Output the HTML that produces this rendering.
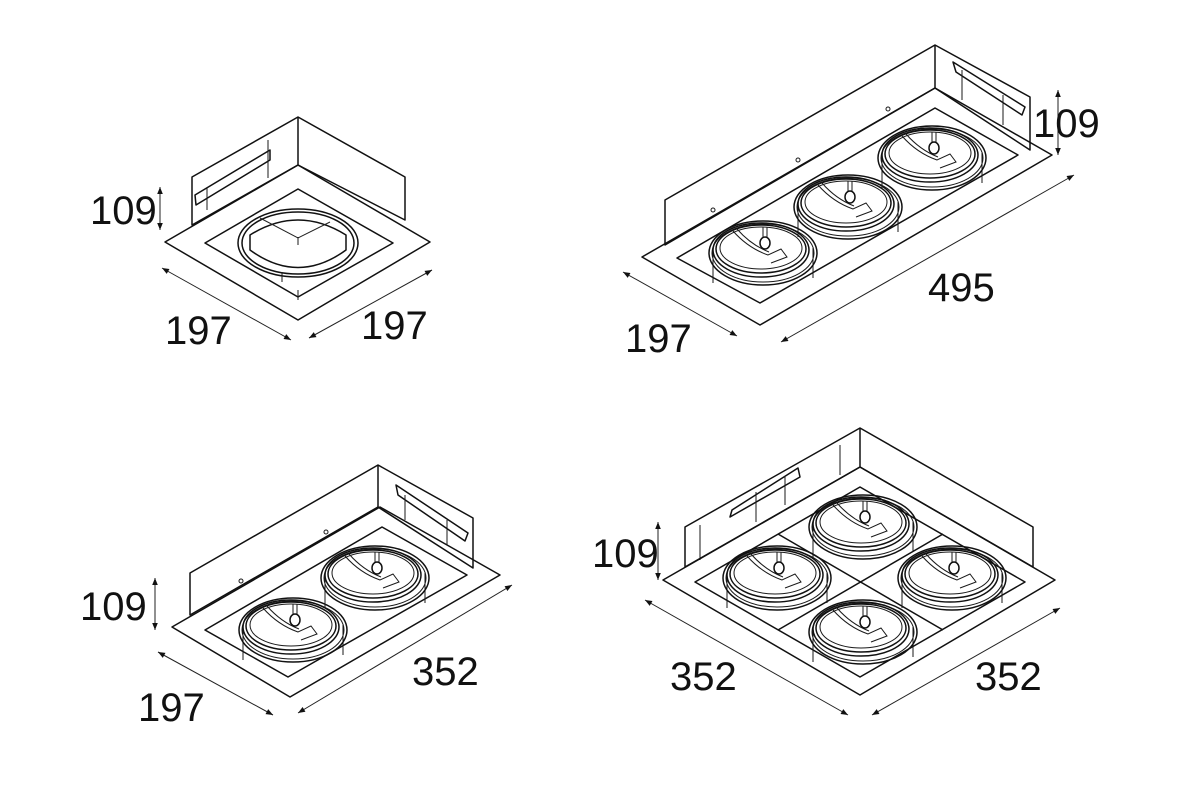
<!DOCTYPE html>
<html><head><meta charset="utf-8"><style>
html,body{margin:0;padding:0;background:#fff}
svg{display:block}
text{font-family:"Liberation Sans",sans-serif;font-size:40px;fill:#111}
.l{fill:none;stroke:#111;stroke-width:1.5;stroke-linejoin:round}
.t{fill:none;stroke:#1a1a1a;stroke-width:1}
.d{fill:none;stroke:#222;stroke-width:1}
</style></head><body>
<svg width="1200" height="800" viewBox="0 0 1200 800" xmlns="http://www.w3.org/2000/svg">
<defs>
<marker id="a" viewBox="0 0 10 10" refX="10" refY="5" markerWidth="9" markerHeight="7" orient="auto-start-reverse" markerUnits="userSpaceOnUse"><path d="M0,1 L10,5 L0,9 Z" fill="#111"/></marker>
<g id="ring">
<line class="t" x1="-50" y1="0" x2="-50" y2="30"/><line class="t" x1="50" y1="-5" x2="50" y2="25"/>
<ellipse class="l" cx="0" cy="0" rx="54" ry="32" fill="#fff"/>
<ellipse class="t" cx="0" cy="0" rx="51" ry="29"/>
<ellipse class="l" cx="-2" cy="-3" rx="48" ry="27"/>
<ellipse class="l" cx="-2" cy="-4" rx="45" ry="24"/>
<ellipse class="t" cx="-2" cy="-5" rx="41" ry="21"/>
<path class="t" d="M-30,-22 Q-15,-5 5,2 L18,-4 L24,4 L8,10"/>
<path class="t" d="M-26,-24 Q-12,-8 6,-1"/>
<line class="t" x1="0" y1="-26" x2="0" y2="-16"/><line class="t" x1="4" y1="-26" x2="4" y2="-16"/>
<ellipse class="l" cx="2" cy="-10" rx="5" ry="6"/>
</g>
</defs>

<!-- Drawing 1 -->
<g>
<polygon class="l" points="192,177 298,117 405,177 405,220 298,165 192,225"/>
<line class="l" x1="298" y1="117" x2="298" y2="165"/>
<polygon class="l" points="195,195 270,150 270,160 196,205" fill="#fff"/>
<line class="t" x1="207" y1="188" x2="207" y2="210"/><line class="t" x1="268" y1="140" x2="268" y2="178"/>
<polygon class="l" points="165,242 298,165 430,242 298,320" fill="#fff"/>
<polygon class="l" points="205,243 298,189 393,243 298,297"/>
<ellipse class="l" cx="298" cy="243" rx="60" ry="34"/>
<ellipse class="l" cx="298" cy="243" rx="56" ry="31"/>
<path class="l" d="M250,235 Q298,205 346,235 L346,250 Q298,285 250,250 Z" fill="#fff"/>
<path class="d" d="M260,218 L298,238 L330,222" stroke="#223"/>
<line class="t" x1="298" y1="237" x2="298" y2="245"/>
<line class="t" x1="282" y1="272" x2="282" y2="282"/><line class="t" x1="298" y1="290" x2="298" y2="300"/>
<line class="d" x1="160" y1="187" x2="160" y2="230" marker-start="url(#a)" marker-end="url(#a)"/>
<text x="90" y="224">109</text>
<line class="d" x1="162" y1="268" x2="291" y2="340" marker-start="url(#a)" marker-end="url(#a)"/>
<text x="165" y="344">197</text>
<line class="d" x1="309" y1="338" x2="432" y2="270" marker-start="url(#a)" marker-end="url(#a)"/>
<text x="361" y="339">197</text>
</g>

<!-- Drawing 2 -->
<g>
<polygon class="l" points="665,200 935,45 1030,97 1030,150 935,88 665,245"/>
<line class="l" x1="935" y1="45" x2="935" y2="88"/>
<polygon class="l" points="953,62 1025,107 1022,115 956,72" fill="#fff"/>
<line class="t" x1="962" y1="70" x2="962" y2="100"/><line class="t" x1="1003" y1="95" x2="1003" y2="125"/>
<polygon class="l" points="642,257 935,88 1052,155 760,325" fill="#fff"/>
<polygon class="l" points="677,258 935,108 1018,155 760,303"/>
<circle class="t" cx="713" cy="210" r="2"/><circle class="t" cx="798" cy="160" r="2"/><circle class="t" cx="888" cy="109" r="2"/>
<use href="#ring" x="763" y="253"/>
<use href="#ring" x="848" y="207"/>
<use href="#ring" x="932" y="158"/>
<line class="d" x1="1058" y1="90" x2="1058" y2="155" marker-start="url(#a)" marker-end="url(#a)"/>
<text x="1033" y="137">109</text>
<line class="d" x1="623" y1="272" x2="737" y2="336" marker-start="url(#a)" marker-end="url(#a)"/>
<text x="625" y="352">197</text>
<line class="d" x1="781" y1="342" x2="1074" y2="175" marker-start="url(#a)" marker-end="url(#a)"/>
<text x="928" y="301">495</text>
</g>

<!-- Drawing 3 -->
<g>
<polygon class="l" points="190,573 378,465 473,518 473,568 378,507 190,615"/>
<line class="l" x1="378" y1="465" x2="378" y2="507"/>
<polygon class="l" points="396,485 468,533 465,541 398,495" fill="#fff"/>
<line class="t" x1="405" y1="495" x2="405" y2="520"/><line class="t" x1="447" y1="520" x2="447" y2="545"/>
<polygon class="l" points="172,627 380,507 500,575 290,697" fill="#fff"/>
<polygon class="l" points="205,630 382,527 467,575 288,677"/>
<circle class="t" cx="241" cy="581" r="2"/><circle class="t" cx="326" cy="532" r="2"/>
<use href="#ring" x="293" y="630"/>
<use href="#ring" x="375" y="578"/>
<line class="d" x1="155" y1="578" x2="155" y2="630" marker-start="url(#a)" marker-end="url(#a)"/>
<text x="80" y="620">109</text>
<line class="d" x1="158" y1="652" x2="273" y2="715" marker-start="url(#a)" marker-end="url(#a)"/>
<text x="138" y="721">197</text>
<line class="d" x1="298" y1="713" x2="512" y2="585" marker-start="url(#a)" marker-end="url(#a)"/>
<text x="412" y="685">352</text>
</g>

<!-- Drawing 4 -->
<g>
<polygon class="l" points="685,527 860,428 1033,527 1033,567 860,467 685,567"/>
<line class="l" x1="860" y1="428" x2="860" y2="467"/>
<polygon class="l" points="798,468 732,510 730,517 800,477" fill="#fff"/>
<line class="t" x1="756" y1="492" x2="756" y2="522"/><line class="t" x1="785" y1="476" x2="785" y2="505"/>
<line class="t" x1="840" y1="445" x2="840" y2="475"/><line class="t" x1="700" y1="525" x2="700" y2="560"/>
<polygon class="l" points="663,580 860,467 1055,580 860,695" fill="#fff"/>
<polygon class="l" points="695,582 860,487 1025,582 860,677"/>
<line class="l" x1="778" y1="534" x2="943" y2="630"/>
<line class="l" x1="778" y1="630" x2="943" y2="534"/>
<use href="#ring" x="863" y="527"/>
<use href="#ring" x="777" y="578"/>
<use href="#ring" x="952" y="578"/>
<use href="#ring" x="863" y="632"/>
<line class="d" x1="658" y1="522" x2="658" y2="580" marker-start="url(#a)" marker-end="url(#a)"/>
<text x="592" y="567">109</text>
<line class="d" x1="645" y1="600" x2="848" y2="715" marker-start="url(#a)" marker-end="url(#a)"/>
<text x="670" y="690">352</text>
<line class="d" x1="872" y1="715" x2="1060" y2="608" marker-start="url(#a)" marker-end="url(#a)"/>
<text x="975" y="690">352</text>
</g>
</svg>
</body></html>
